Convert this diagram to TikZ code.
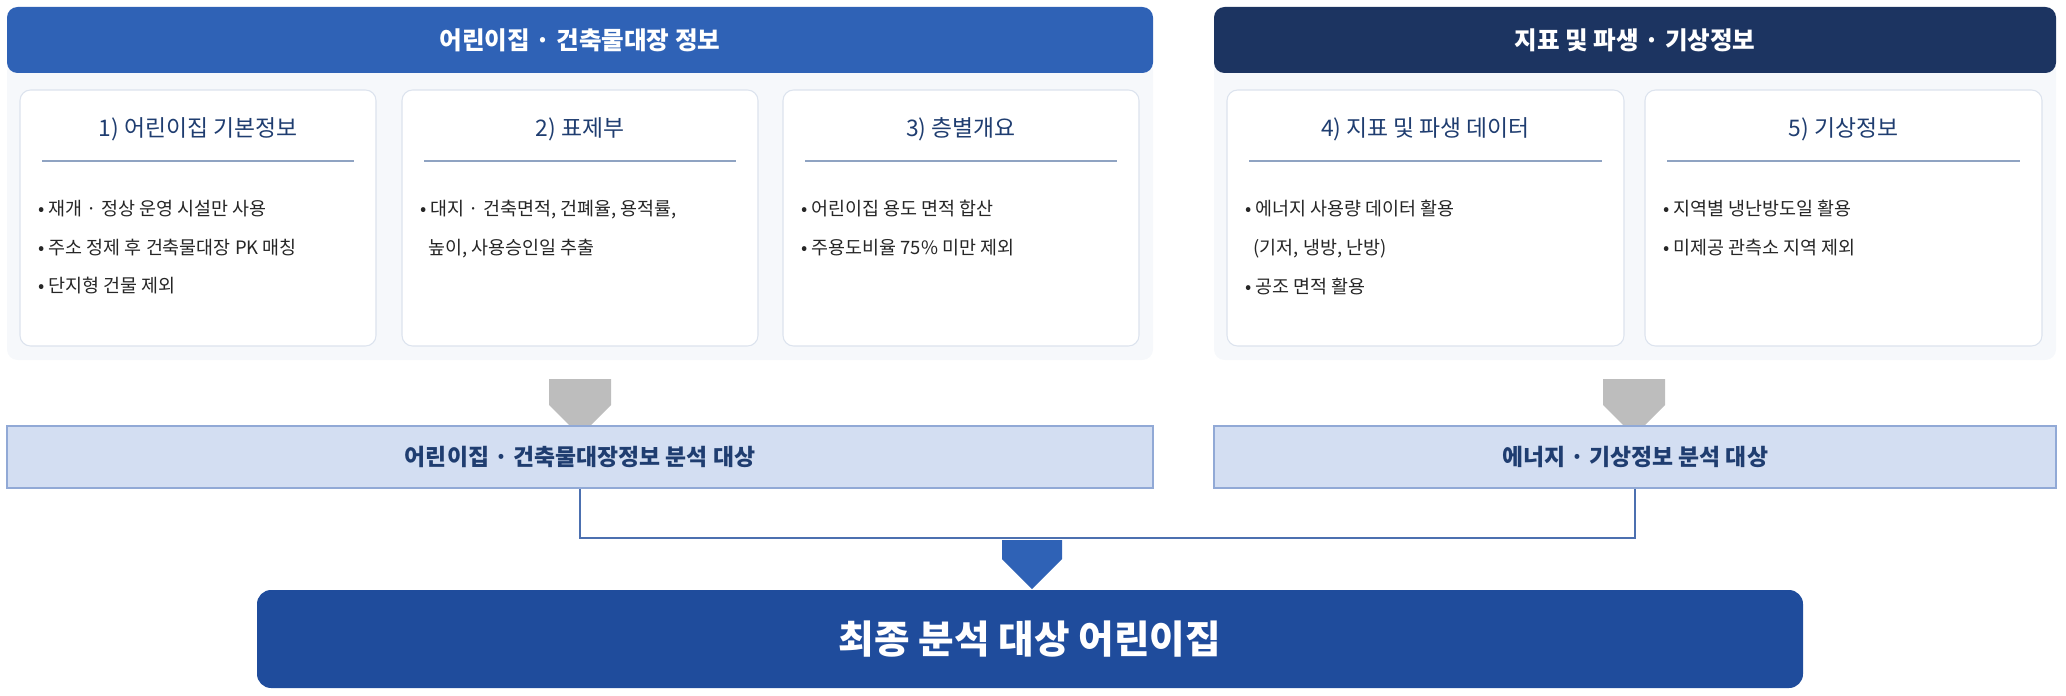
\documentclass[tikz,border=0pt]{standalone}
\usepackage{fontspec}
\setmainfont{Noto Sans CJK KR}
\usetikzlibrary{shapes.arrows,positioning}
\definecolor{hdrblue}{HTML}{2F62B6}
\definecolor{hdrnavy}{HTML}{1C3461}
\definecolor{panelbg}{HTML}{F6F8FB}
\definecolor{cardline}{HTML}{DCE3EE}
\definecolor{titletxt}{HTML}{1F3D70}
\definecolor{rulecol}{HTML}{8FA3C2}
\definecolor{resfill}{HTML}{D3DEF2}
\definecolor{resline}{HTML}{91A9D6}
\definecolor{finalblue}{HTML}{1F4C9C}
\definecolor{arrowgray}{HTML}{BDBDBD}
\tikzset{
  header/.style={fill=#1,rounded corners=6pt,text=white,font=\fontsize{14}{16}\selectfont\bfseries,inner sep=0pt},
  card/.style={draw=cardline,fill=white,rounded corners=6pt,line width=0.6pt},
  cardtitle/.style={text=titletxt,font=\fontsize{13}{15}\selectfont},
  bullets/.style={anchor=north west,align=left,text=black!85,font=\fontsize{10.5}{22}\selectfont,inner sep=0pt},
  result/.style={draw=resline,fill=resfill,line width=1pt,text=titletxt,font=\fontsize{13}{15}\selectfont\bfseries},
  grayarrow/.style={single arrow,fill=arrowgray,draw=none,shape border rotate=270,minimum height=57*0.02cm,minimum width=62*0.02cm,single arrow head extend=0pt,inner sep=0pt},
}
\begin{document}
\begin{tikzpicture}[x=0.02cm,y=-0.02cm]
\useasboundingbox (0,0) rectangle (2066,696);
% panels and headers
\fill[panelbg,rounded corners=6pt] (7,60) rectangle (1153,360);
\fill[panelbg,rounded corners=6pt] (1214,60) rectangle (2056,360);
\node[header=hdrblue,minimum width=1146*0.02cm,minimum height=66*0.02cm] (hdrL) at (580,40) {어린이집 · 건축물대장 정보};
\node[header=hdrnavy,minimum width=842*0.02cm,minimum height=66*0.02cm] (hdrR) at (1635,40) {지표 및 파생 · 기상정보};
% cards
\foreach \n/\xa/\xb/\t in {c1/20/376/{1) 어린이집 기본정보},c2/402/758/{2) 표제부},c3/783/1139/{3) 층별개요},c4/1227/1624/{4) 지표 및 파생 데이터},c5/1645/2042/{5) 기상정보}}{
  \draw[card] (\xa,90) rectangle (\xb,346);
  \node[cardtitle] (\n) at ({(\xa+\xb)/2},129) {\t};
  \draw[rulecol,line width=1.2pt] (\xa+22,161) -- (\xb-22,161);
}
\node[bullets] (b1) at (38,200) {• 재개 · 정상 운영 시설만 사용\\• 주소 정제 후 건축물대장 PK 매칭\\• 단지형 건물 제외};
\node[bullets] (b2) at (420,200) {• 대지 · 건축면적, 건폐율, 용적률,\\\ \ 높이, 사용승인일 추출};
\node[bullets] (b3) at (801,200) {• 어린이집 용도 면적 합산\\• 주용도비율 75\% 미만 제외};
\node[bullets] (b4) at (1245,200) {• 에너지 사용량 데이터 활용\\\ \ (기저, 냉방, 난방)\\• 공조 면적 활용};
\node[bullets] (b5) at (1663,200) {• 지역별 냉난방도일 활용\\• 미제공 관측소 지역 제외};
% gray arrows
\node[grayarrow] (gaL) at (580,392) {};
\node[grayarrow] (gaR) at (1634,392) {};
% results
\node[result,minimum width=1146*0.02cm,minimum height=62*0.02cm] (resL) at (580,457) {어린이집 · 건축물대장정보 분석 대상};
\node[result,minimum width=842*0.02cm,minimum height=62*0.02cm] (resR) at (1635,457) {에너지 · 기상정보 분석 대상};
% final
\node[fill=finalblue,rounded corners=8pt,text=white,minimum width=1546*0.02cm,minimum height=98*0.02cm,font=\fontsize{22}{26}\selectfont\bfseries] (final) at (1030,639) {최종 분석 대상 어린이집};
% connectors
\coordinate (join) at (1032,538);
\draw[finalblue!80,line width=1.5pt] (resL.south) |- (join) -| (resR.south);
\node[single arrow,fill=hdrblue,draw=none,shape border rotate=270,minimum height=49*0.02cm,minimum width=60*0.02cm,single arrow head extend=0pt,inner sep=0pt,anchor=tip] (fa) at (final.north -| join) {};
\end{tikzpicture}
\end{document}
